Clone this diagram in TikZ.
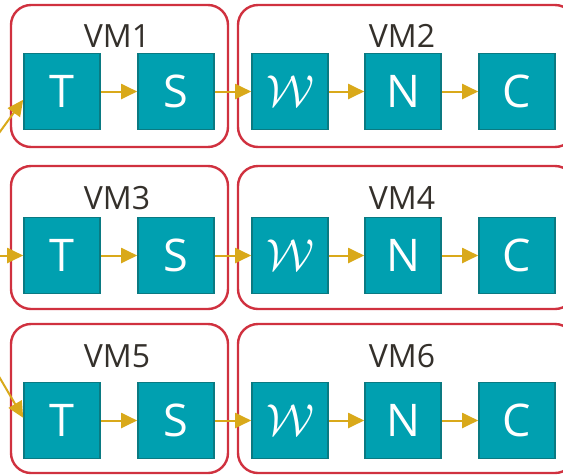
\documentclass[tikz,border=0pt]{standalone}
\usepackage{fontspec}
\setmainfont{Open Sans}
\usetikzlibrary{arrows.meta}
\definecolor{vmred}{HTML}{D0313F}
\definecolor{procfill}{HTML}{00A0B0}
\definecolor{procedge}{HTML}{0A7A82}
\definecolor{flowgold}{HTML}{D9A91A}
\definecolor{labelink}{HTML}{34302B}
\begin{document}
\begin{tikzpicture}[x=1pt,y=-1pt,
  vm/.style={draw=vmred, line width=2.4pt, rounded corners=20pt, minimum height=#1, inner sep=0pt},
  vmlabel/.style={text=labelink, font=\fontsize{32}{32}\selectfont, inner sep=0pt},
  proc/.style={draw=procedge, fill=procfill, line width=1.6pt, minimum size=76pt,
    inner sep=0pt, text=white, font=\fontsize{45}{45}\selectfont},
  flow/.style={draw=flowgold, line width=2pt, -{Triangle[length=16pt,width=15pt]}}]
\useasboundingbox (0,0) rectangle (563,475);
\clip (0,0) rectangle (563,475);

% virtual machine frames
\node[vm=142pt, minimum width=217pt] (vm1) at (119.5,76) {};
\node[vm=142pt, minimum width=337pt] (vm2) at (406.5,76) {};
\node[vm=143pt, minimum width=217pt] (vm3) at (119.5,237.5) {};
\node[vm=143pt, minimum width=337pt] (vm4) at (406.5,237.5) {};
\node[vm=149pt, minimum width=217pt] (vm5) at (119.5,398.5) {};
\node[vm=149pt, minimum width=337pt] (vm6) at (406.5,398.5) {};

% frame titles
\node[vmlabel] (lvm1) at (117,36) {VM1};
\node[vmlabel] (lvm2) at (402,36) {VM2};
\node[vmlabel] (lvm3) at (117,198) {VM3};
\node[vmlabel] (lvm4) at (402,198) {VM4};
\node[vmlabel] (lvm5) at (117,356) {VM5};
\node[vmlabel] (lvm6) at (402,356) {VM6};

% processing stages, one row per pipeline
\foreach \r/\y in {1/91.5, 2/255.5, 3/420.5} {
  \node[proc] (t\r) at (62,\y) {T};
  \node[proc] (s\r) at (176,\y) {S};
  \node[proc] (w\r) at (290,\y) {\scalebox{1.8}{$\mathcal{W}$}};
  \node[proc] (n\r) at (403,\y) {N};
  \node[proc] (c\r) at (517,\y) {C};
  \draw[flow] (t\r) -- (s\r);
  \draw[flow] (s\r) -- (w\r);
  \draw[flow] (w\r) -- (n\r);
  \draw[flow] (n\r) -- (c\r);
}

% incoming feeds
\coordinate (in1) at (-6,140);
\coordinate (in2) at (-6,255.5);
\coordinate (in3) at (-6,368);
\draw[flow] (in1) -- (t1.192);
\draw[flow] (in2) -- (t2.west);
\draw[flow] (in3) -- (t3.176);
\end{tikzpicture}
\end{document}
